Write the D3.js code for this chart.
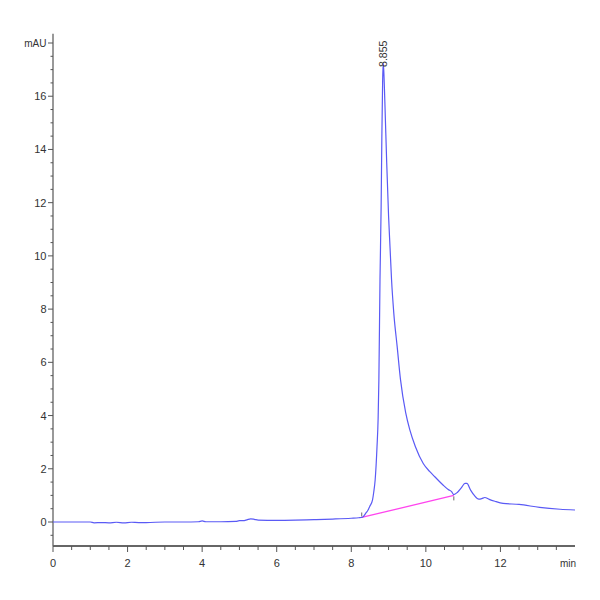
<!DOCTYPE html>
<html>
<head>
<meta charset="utf-8">
<script src="https://cdn.jsdelivr.net/npm/d3@7"></script>
<style>
  body { margin: 0; background: #fff; }
  svg { display: block; }
  text { font-family: "Liberation Sans Narrow", "Arial Narrow", "Liberation Sans", sans-serif; fill: #333; }
</style>
</head>
<body>
<div id="chart"></div>
<script>
// Retention time (min) and absorbance (mAU)
const times = [0, 0.5, 1.0, 1.1, 1.3, 1.5, 1.7, 1.9, 2.1, 2.3, 2.5, 3.0, 3.5, 3.9, 4.0, 4.1, 4.5, 4.9,
  5.0, 5.1, 5.2, 5.3, 5.4, 5.5, 6.0, 6.5, 7.0, 7.5, 8.0, 8.2, 8.3, 8.4, 8.45, 8.5, 8.57, 8.6, 8.64,
  8.69, 8.72, 8.74, 8.77, 8.8, 8.82, 8.84, 8.855, 8.87, 8.9, 8.95, 9.0, 9.04, 9.08, 9.14, 9.23, 9.32,
  9.46, 9.57, 9.72, 9.93, 10.1, 10.24, 10.46, 10.6, 10.69, 10.75, 10.85, 10.95,
  11.05, 11.1, 11.2, 11.3, 11.42, 11.5, 11.58, 11.7, 11.85, 12.07, 12.5, 13.05, 13.6, 14.0];
const signal = [0.0, 0.0, 0.0, -0.03, -0.02, -0.03, -0.01, -0.03, -0.01, -0.02, -0.02, 0.0, 0.0, 0.01, 0.04, 0.01, 0.01, 0.02,
  0.05, 0.05, 0.08, 0.12, 0.10, 0.07, 0.06, 0.07, 0.09, 0.11, 0.14, 0.16, 0.18, 0.35, 0.45, 0.6, 0.83, 1.1, 1.58,
  2.83, 3.9, 5.34, 9.1, 11.8, 14.5, 16.5, 17.25, 17.0, 15.8, 13.5, 11.5, 10.3, 9.1, 7.85, 6.6, 5.35,
  4.1, 3.46, 2.83, 2.2, 1.9, 1.7, 1.39, 1.22, 1.14, 1.03, 1.12, 1.28,
  1.45, 1.45, 1.2, 1.0, 0.86, 0.88, 0.92, 0.85, 0.78, 0.70, 0.66, 0.55, 0.48, 0.45];

// Integration baseline (start, end)
const baselineTimes = [8.28, 10.75];
const baselineValues = [0.17, 1.0];

// Peak annotation
const peakTime = 8.855;
const peakValue = 17.25;
const peakLabel = "8.855";

// Axis ticks
const xMajorTicks = [0, 2, 4, 6, 8, 10, 12];
const yMajorTicks = [0, 2, 4, 6, 8, 10, 12, 14, 16];
const xUnit = "min";
const yUnit = "mAU";

const W = 600, H = 600;
const svg = d3.select("#chart").append("svg").attr("width", W).attr("height", H);

const x = d3.scaleLinear().domain([0, 14]).range([53, 575]);
const y = d3.scaleLinear().domain([0, 18]).range([522, 43]);

const axisColor = "#555";

// Y axis
const yTop = y(18.35), yBottom = 546;
svg.append("line").attr("x1", 53).attr("x2", 53).attr("y1", yTop).attr("y2", yBottom)
  .attr("stroke", axisColor).attr("stroke-width", 1.2);

const yMinor = d3.range(-0.5, 18, 0.5).filter(v => Math.abs(v / 2 - Math.round(v / 2)) > 1e-6);
svg.append("g").selectAll("line").data(yMinor).join("line")
  .attr("x1", 50.5).attr("x2", 53).attr("y1", d => y(d)).attr("y2", d => y(d))
  .attr("stroke", axisColor).attr("stroke-width", 1);

const yAll = yMajorTicks.concat([18]);
svg.append("g").selectAll("line").data(yAll).join("line")
  .attr("x1", 48).attr("x2", 53).attr("y1", d => y(d)).attr("y2", d => y(d))
  .attr("stroke", axisColor).attr("stroke-width", 1);

svg.append("g").selectAll("text").data(yMajorTicks).join("text")
  .attr("x", 46.5).attr("y", d => y(d)).attr("dy", "0.36em")
  .attr("text-anchor", "end").attr("font-size", 11).text(d => d);

svg.append("text").attr("x", 46.5).attr("y", y(18)).attr("dy", "0.36em")
  .attr("text-anchor", "end").attr("font-size", 10).text(yUnit);

// X axis
svg.append("line").attr("x1", 53).attr("x2", 575).attr("y1", 546).attr("y2", 546)
  .attr("stroke", "#666").attr("stroke-width", 2);

const xMinor = d3.range(0.5, 14.01, 0.5).filter(v => v % 2 !== 0);
svg.append("g").selectAll("line").data(xMinor).join("line")
  .attr("x1", d => x(d)).attr("x2", d => x(d)).attr("y1", 546).attr("y2", 550)
  .attr("stroke", axisColor).attr("stroke-width", 1);

svg.append("g").selectAll("line").data(xMajorTicks).join("line")
  .attr("x1", d => x(d)).attr("x2", d => x(d)).attr("y1", 546).attr("y2", 552)
  .attr("stroke", axisColor).attr("stroke-width", 1);

svg.append("g").selectAll("text").data(xMajorTicks).join("text")
  .attr("x", d => x(d)).attr("y", 563).attr("dy", "0.36em")
  .attr("text-anchor", "middle").attr("font-size", 11).text(d => d);

svg.append("text").attr("x", x(14) - 7).attr("y", 563).attr("dy", "0.36em")
  .attr("text-anchor", "middle").attr("font-size", 10).text(xUnit);

// Baseline (integration)
svg.append("line")
  .attr("x1", x(baselineTimes[0])).attr("y1", y(baselineValues[0]))
  .attr("x2", x(baselineTimes[1])).attr("y2", y(baselineValues[1]))
  .attr("stroke", "#ff44ee").attr("stroke-width", 1.3);

// Baseline end markers
svg.append("line")
  .attr("x1", x(baselineTimes[0])).attr("x2", x(baselineTimes[0]))
  .attr("y1", y(baselineValues[0]) - 5).attr("y2", y(baselineValues[0]) - 1)
  .attr("stroke", "#444").attr("stroke-width", 0.8);
svg.append("line")
  .attr("x1", x(baselineTimes[1])).attr("x2", x(baselineTimes[1]))
  .attr("y1", y(baselineValues[1]) + 1).attr("y2", y(baselineValues[1]) + 5)
  .attr("stroke", "#444").attr("stroke-width", 0.8);

// Signal
const pts = times.map((t, i) => [t, signal[i]]);
const line = d3.line().x(d => x(d[0])).y(d => y(d[1])).curve(d3.curveMonotoneX);
svg.append("path").datum(pts).attr("d", line)
  .attr("fill", "none").attr("stroke", "#5a5af5").attr("stroke-width", 1.2)
  .attr("stroke-linejoin", "round");

// Peak label
svg.append("text")
  .attr("transform", `translate(${x(peakTime) + 3.5},${y(peakValue) + 4}) rotate(-90)`)
  .attr("text-anchor", "start").attr("font-size", 10.5).attr("fill", "#333")
  .text(peakLabel);
</script>
</body>
</html>
